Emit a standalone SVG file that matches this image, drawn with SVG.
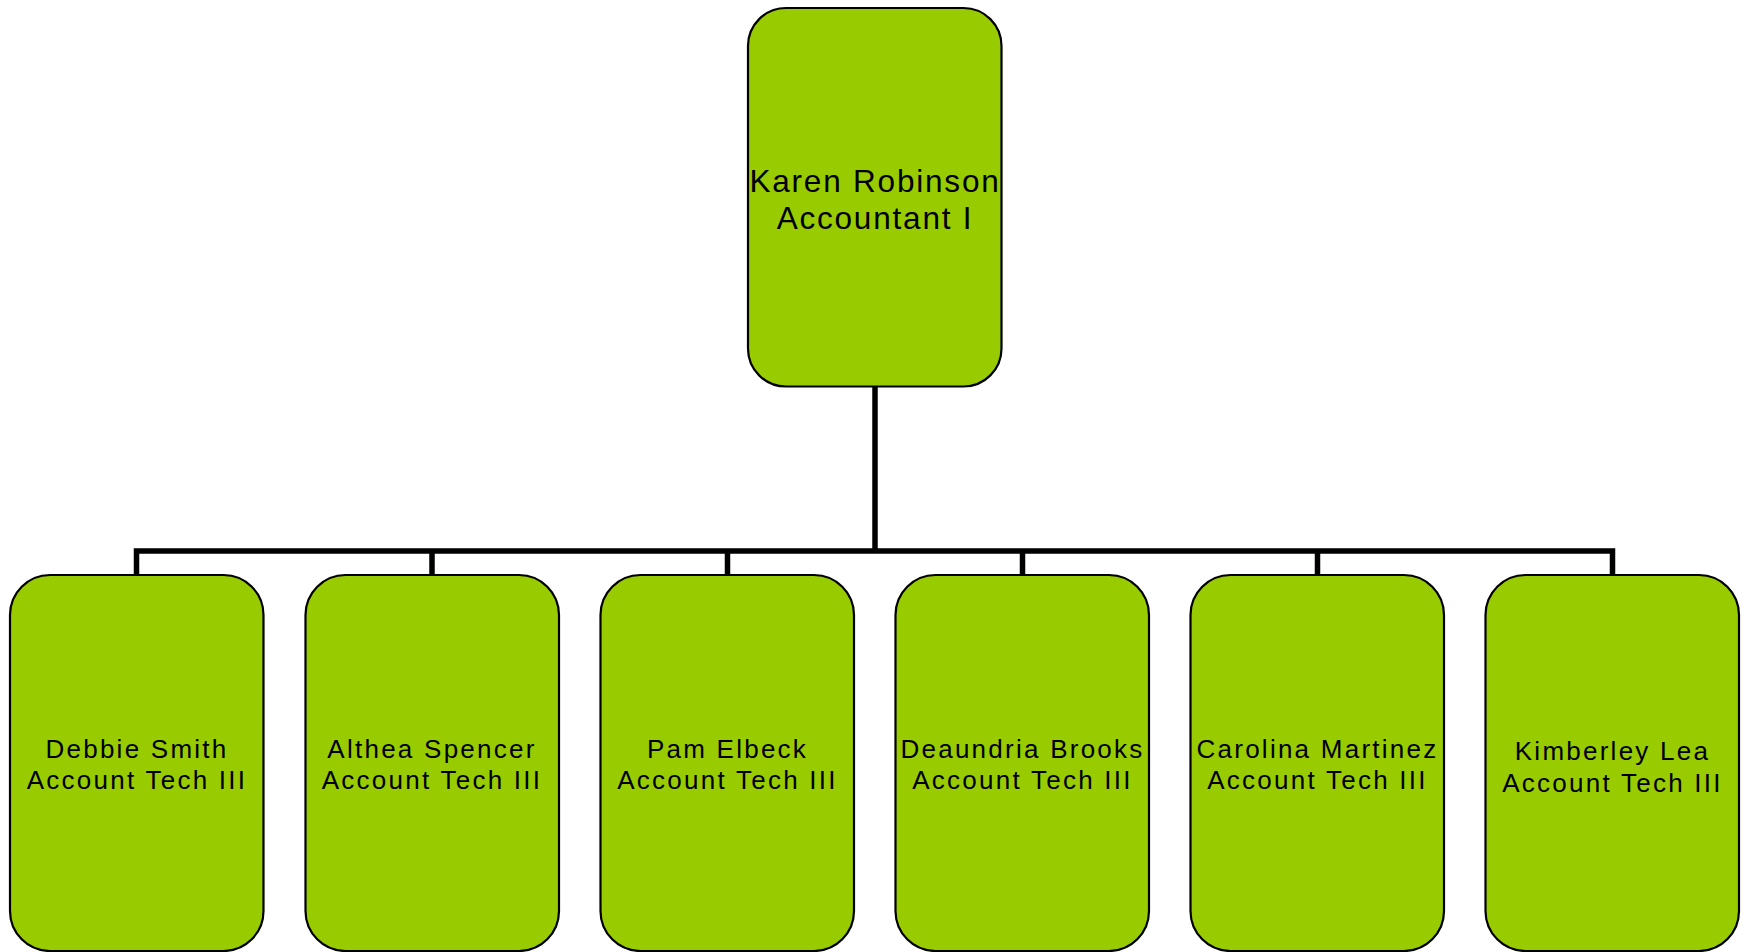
<svg xmlns="http://www.w3.org/2000/svg" width="1747" height="952" viewBox="0 0 1747 952">
<style>
.box{fill:#99CC00;stroke:#000;stroke-width:2.2}
.t1{font-family:"Liberation Sans",Arial,sans-serif;font-size:31.5px;letter-spacing:1.8px;fill:#000;text-anchor:middle}
.t2{font-family:"Liberation Sans",Arial,sans-serif;font-size:26px;letter-spacing:2.25px;fill:#000;text-anchor:middle}
.conn{fill:none;stroke:#000;stroke-width:5.5;stroke-linecap:butt}
</style>
<rect width="1747" height="952" fill="#fff"/>
<g id="connectors">
<path class="conn" d="M875 387V551"/>
<path class="conn" d="M136.5 575V551H1612.5V575"/>
<path class="conn" d="M432 551V575"/>
<path class="conn" d="M727.5 551V575"/>
<path class="conn" d="M1022.5 551V575"/>
<path class="conn" d="M1317.5 551V575"/>
</g>
<g id="karen">
<rect class="box" x="748" y="8" width="253.5" height="378.5" rx="38" ry="38"/>
<text class="t1" x="875" y="191.5">Karen Robinson</text>
<text class="t1" x="875" y="228.5">Accountant I</text>
</g>
<g id="debbie">
<rect class="box" x="10" y="575" width="253.5" height="376" rx="40" ry="40"/>
<text class="t2" x="137" y="758">Debbie Smith</text>
<text class="t2" x="137" y="789">Account Tech III</text>
</g>
<g id="althea">
<rect class="box" x="305.5" y="575" width="253.5" height="376" rx="40" ry="40"/>
<text class="t2" x="432" y="758">Althea Spencer</text>
<text class="t2" x="432" y="789">Account Tech III</text>
</g>
<g id="pam">
<rect class="box" x="600.5" y="575" width="253.5" height="376" rx="40" ry="40"/>
<text class="t2" x="727.5" y="758">Pam Elbeck</text>
<text class="t2" x="727.5" y="789">Account Tech III</text>
</g>
<g id="deaundria">
<rect class="box" x="895.5" y="575" width="253.5" height="376" rx="40" ry="40"/>
<text class="t2" x="1022.5" y="758">Deaundria Brooks</text>
<text class="t2" x="1022.5" y="789">Account Tech III</text>
</g>
<g id="carolina">
<rect class="box" x="1190.5" y="575" width="253.5" height="376" rx="40" ry="40"/>
<text class="t2" x="1317.5" y="758">Carolina Martinez</text>
<text class="t2" x="1317.5" y="789">Account Tech III</text>
</g>
<g id="kimberley">
<rect class="box" x="1485.5" y="575" width="253.5" height="376" rx="40" ry="40"/>
<text class="t2" x="1612.5" y="760">Kimberley Lea</text>
<text class="t2" x="1612.5" y="791.5">Account Tech III</text>
</g>
</svg>
